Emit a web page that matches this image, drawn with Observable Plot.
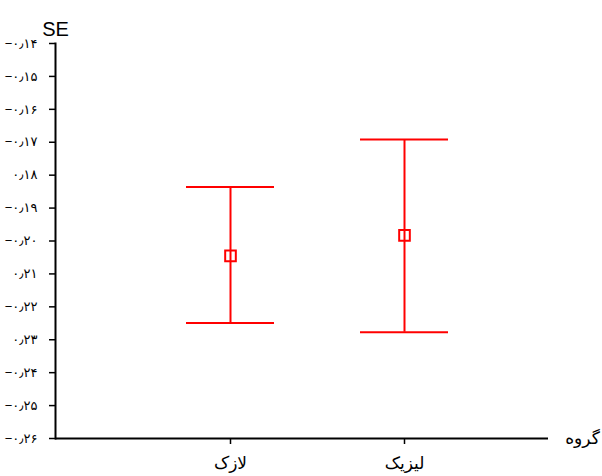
<!DOCTYPE html>
<html>
<head>
<meta charset="utf-8">
<script src="https://cdn.jsdelivr.net/npm/d3@7"></script>
<script src="https://cdn.jsdelivr.net/npm/@observablehq/plot@0.6"></script>
<style>
  html, body { margin: 0; padding: 0; background: #fff; }
</style>
</head>
<body>
<div id="chart"></div>
<script>
// Categories (groups)
const groups = ["لازک", "لیزیک"];
// Error bar series: mean, upper, lower (SE)
const means = [-0.2045, -0.1983];
const uppers = [-0.1836, -0.1692];
const lowers = [-0.2249, -0.2277];

// Y axis ticks and their labels (as shown in the original)
const yTicks = [-0.14, -0.15, -0.16, -0.17, -0.18, -0.19, -0.20, -0.21, -0.22, -0.23, -0.24, -0.25, -0.26];
const yTickLabels = ["−۰٫۱۴", "−۰٫۱۵", "−۰٫۱۶", "−۰٫۱۷", "۰٫۱۸", "−۰٫۱۹", "−۰٫۲۰", "۰٫۲۱", "−۰٫۲۲", "۰٫۲۳", "−۰٫۲۴", "−۰٫۲۵", "−۰٫۲۶"];
const yTitle = "SE";
const xTitle = "گروه";

const data = groups.map((g, i) => ({group: g, mean: means[i], hi: uppers[i], lo: lowers[i]}));
const labelMap = new Map(yTicks.map((v, i) => [v, yTickLabels[i]]));
const red = "#ff0000";

const chart = Plot.plot({
  width: 602,
  height: 476,
  marginLeft: 55,
  marginRight: 54,
  marginTop: 43,
  marginBottom: 38,
  style: {fontFamily: "'Liberation Sans', 'DejaVu Sans', sans-serif", color: "#000", background: "#fff"},
  x: {type: "band", domain: groups, range: [185, 448], paddingInner: 0.497, paddingOuter: 0, label: null},
  y: {domain: [-0.26, -0.14], label: null},
  marks: [
    Plot.axisY({ticks: yTicks, tickFormat: d => labelMap.get(d), tickSize: 6, tickPadding: 12, fontSize: 13, strokeWidth: 1.5, label: null}),
    Plot.axisX({tickSize: 6, tickPadding: 12, fontSize: 17, strokeWidth: 1.5, label: null}),
    Plot.frame({anchor: "left", strokeWidth: 2}),
    Plot.ruleY([-0.26], {strokeWidth: 2}),
    Plot.ruleX(data, {x: "group", y1: "lo", y2: "hi", stroke: red, strokeWidth: 2}),
    Plot.tickY(data, {x: "group", y: "hi", stroke: red, strokeWidth: 2}),
    Plot.tickY(data, {x: "group", y: "lo", stroke: red, strokeWidth: 2}),
    Plot.dot(data, {x: "group", y: "mean", symbol: "square", r: 6, stroke: red, strokeWidth: 2, fill: "none"}),
    Plot.text([yTitle], {frameAnchor: "top-left", text: d => d, dy: -22, textAnchor: "middle", fontSize: 20}),
    Plot.text([xTitle], {frameAnchor: "bottom-right", text: d => d, dx: 34, textAnchor: "middle", lineAnchor: "middle", fontSize: 17})
  ]
});
document.getElementById("chart").appendChild(chart);
</script>
</body>
</html>
